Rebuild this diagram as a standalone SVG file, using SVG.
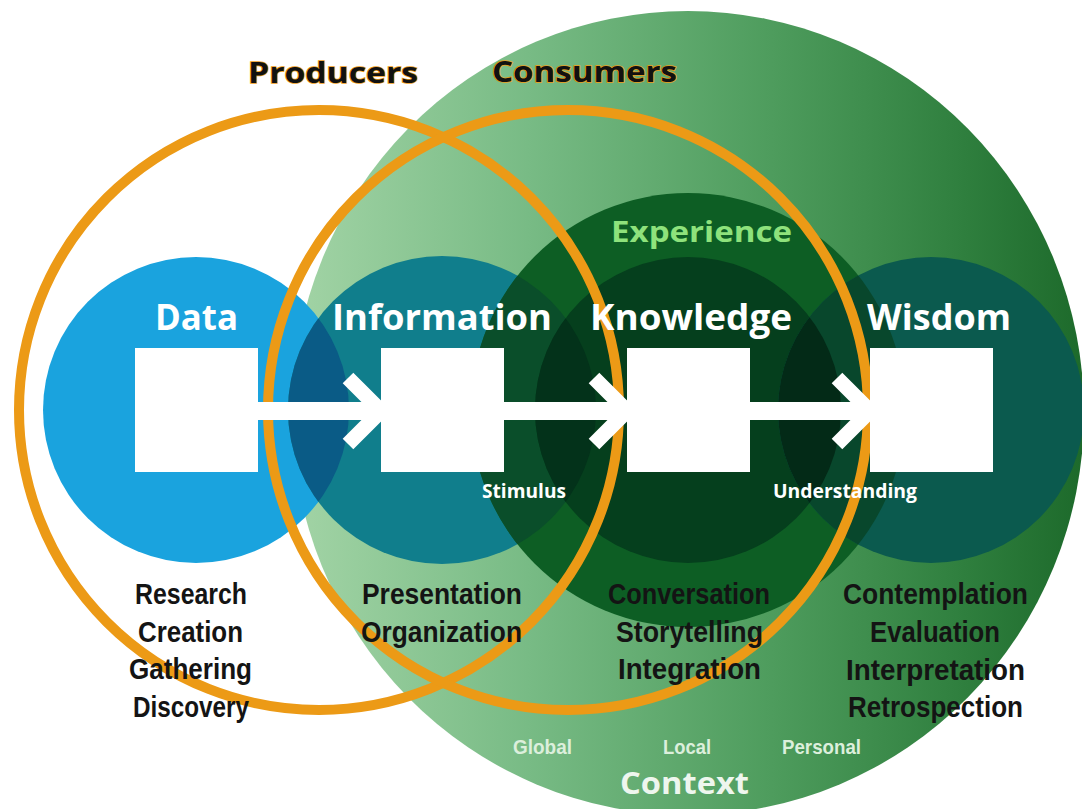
<svg xmlns="http://www.w3.org/2000/svg" width="1082" height="809" viewBox="0 0 1082 809">
<style>
.title{font-family:"Open Sans","DejaVu Sans",sans-serif;font-weight:700;fill:#ffffff}
.head{font-family:"Open Sans","DejaVu Sans",sans-serif;font-weight:700;fill:#111111;stroke:#ee9c15;stroke-width:1.5;paint-order:stroke}
.list{font-family:"Liberation Sans","Arial",sans-serif;font-weight:700;font-size:29px;fill:#141414}
.ctx{font-family:"Liberation Sans","Arial",sans-serif;font-weight:700;font-size:21px;fill:#dcefdc}
.ring{fill:none;stroke:#ec9a16;stroke-width:10}
.box{fill:#ffffff}
.bar{fill:#ffffff}
.chev{fill:none;stroke:#ffffff;stroke-width:15;stroke-linejoin:miter}
</style>
<defs>
<linearGradient id="gGreen" gradientUnits="userSpaceOnUse" x1="290" y1="0" x2="1082" y2="0">
<stop offset="0" stop-color="#a3d4a6"/>
<stop offset="0.3" stop-color="#78bb85"/>
<stop offset="0.6" stop-color="#4f9d5e"/>
<stop offset="0.85" stop-color="#2f7f3e"/>
<stop offset="1" stop-color="#1d6a2b"/>
</linearGradient>
<clipPath id="cData"><circle cx="196" cy="410" r="153"/></clipPath>
<clipPath id="cInfo"><circle cx="442" cy="410" r="154"/></clipPath>
<clipPath id="cExp"><circle cx="688" cy="410" r="217"/></clipPath>
<clipPath id="cKnow"><circle cx="688" cy="410" r="153"/></clipPath>
</defs>
<rect width="1082" height="809" fill="#ffffff"/>
<g id="context">
<ellipse cx="688" cy="413" rx="396" ry="402" fill="url(#gGreen)"/>
</g>
<g id="circles">
<circle id="c-data" cx="196" cy="410" r="153" fill="#1aa3de"/>
<circle id="c-info" cx="442" cy="410" r="154" fill="#107e8c"/>
<circle cx="442" cy="410" r="154" fill="#0a5b86" clip-path="url(#cData)"/>
<circle id="c-exp" cx="688" cy="410" r="217" fill="#0d5e24"/>
<circle cx="688" cy="410" r="217" fill="#0a4e2a" clip-path="url(#cInfo)"/>
<circle id="c-know" cx="688" cy="410" r="153" fill="#053f1d"/>
<circle cx="688" cy="410" r="153" fill="#03321a" clip-path="url(#cInfo)"/>
<circle id="c-wis" cx="931" cy="410" r="153" fill="#0b5a4e"/>
<circle cx="931" cy="410" r="153" fill="#08472c" clip-path="url(#cExp)"/>
<circle cx="931" cy="410" r="153" fill="#032a17" clip-path="url(#cKnow)"/>
</g>
<g id="producers">
<circle class="ring" cx="319" cy="410" r="300"/>
<text class="head" x="248" y="83" font-size="29" textLength="170" lengthAdjust="spacingAndGlyphs">Producers</text>
</g>
<g id="consumers">
<circle class="ring" cx="568" cy="410" r="300"/>
<text class="head" x="492" y="82" font-size="29" textLength="185" lengthAdjust="spacingAndGlyphs">Consumers</text>
</g>
<g id="connectors">
<rect class="bar" x="256" y="402" width="127" height="18"/>
<polyline class="chev" points="348,378 381,411 348,444"/>
<rect class="bar" x="502" y="402" width="127" height="18"/>
<polyline class="chev" points="594,378 627,411 594,444"/>
<rect class="bar" x="748" y="402" width="124" height="18"/>
<polyline class="chev" points="837,378 870,411 837,444"/>
</g>
<g id="data">
<rect class="box" x="135" y="348" width="123" height="124"/>
<text class="title" x="155" y="330" font-size="35" textLength="83" lengthAdjust="spacingAndGlyphs">Data</text>
<text class="list" x="135" y="604" textLength="112" lengthAdjust="spacingAndGlyphs">Research</text>
<text class="list" x="138" y="642" textLength="105" lengthAdjust="spacingAndGlyphs">Creation</text>
<text class="list" x="129" y="679" textLength="123" lengthAdjust="spacingAndGlyphs">Gathering</text>
<text class="list" x="133" y="717" textLength="116" lengthAdjust="spacingAndGlyphs">Discovery</text>
</g>
<g id="information">
<rect class="box" x="381" y="348" width="123" height="124"/>
<text class="title" x="332" y="330" font-size="35" textLength="220" lengthAdjust="spacingAndGlyphs">Information</text>
<text class="title" x="482" y="498" font-size="19" textLength="84" lengthAdjust="spacingAndGlyphs">Stimulus</text>
<text class="list" x="362" y="604" textLength="160" lengthAdjust="spacingAndGlyphs">Presentation</text>
<text class="list" x="361" y="642" textLength="161" lengthAdjust="spacingAndGlyphs">Organization</text>
</g>
<g id="experience">
<text x="611" y="242" font-family="Open Sans, DejaVu Sans, sans-serif" font-weight="700" font-size="28" fill="#8ee27c" textLength="181" lengthAdjust="spacingAndGlyphs">Experience</text>
</g>
<g id="knowledge">
<rect class="box" x="627" y="348" width="123" height="124"/>
<text class="title" x="590" y="330" font-size="35" textLength="202" lengthAdjust="spacingAndGlyphs">Knowledge</text>
<text class="title" x="773" y="498" font-size="19" textLength="144" lengthAdjust="spacingAndGlyphs">Understanding</text>
<text class="list" x="608" y="604" textLength="162" lengthAdjust="spacingAndGlyphs">Conversation</text>
<text class="list" x="616" y="642" textLength="147" lengthAdjust="spacingAndGlyphs">Storytelling</text>
<text class="list" x="618" y="679" textLength="143" lengthAdjust="spacingAndGlyphs">Integration</text>
</g>
<g id="wisdom">
<rect class="box" x="870" y="348" width="123" height="124"/>
<text class="title" x="867" y="330" font-size="35" textLength="144" lengthAdjust="spacingAndGlyphs">Wisdom</text>
<text class="list" x="843" y="604" textLength="185" lengthAdjust="spacingAndGlyphs">Contemplation</text>
<text class="list" x="870" y="642" textLength="130" lengthAdjust="spacingAndGlyphs">Evaluation</text>
<text class="list" x="846" y="680" textLength="179" lengthAdjust="spacingAndGlyphs">Interpretation</text>
<text class="list" x="848" y="717" textLength="175" lengthAdjust="spacingAndGlyphs">Retrospection</text>
</g>
<g id="context-labels">
<text class="ctx" x="513" y="754" textLength="59" lengthAdjust="spacingAndGlyphs">Global</text>
<text class="ctx" x="663" y="754" textLength="48" lengthAdjust="spacingAndGlyphs">Local</text>
<text class="ctx" x="782" y="754" textLength="79" lengthAdjust="spacingAndGlyphs">Personal</text>
<text x="620" y="794" font-family="Open Sans, DejaVu Sans, sans-serif" font-weight="700" font-size="30" fill="#eef6ee" textLength="129" lengthAdjust="spacingAndGlyphs">Context</text>
</g>
</svg>
